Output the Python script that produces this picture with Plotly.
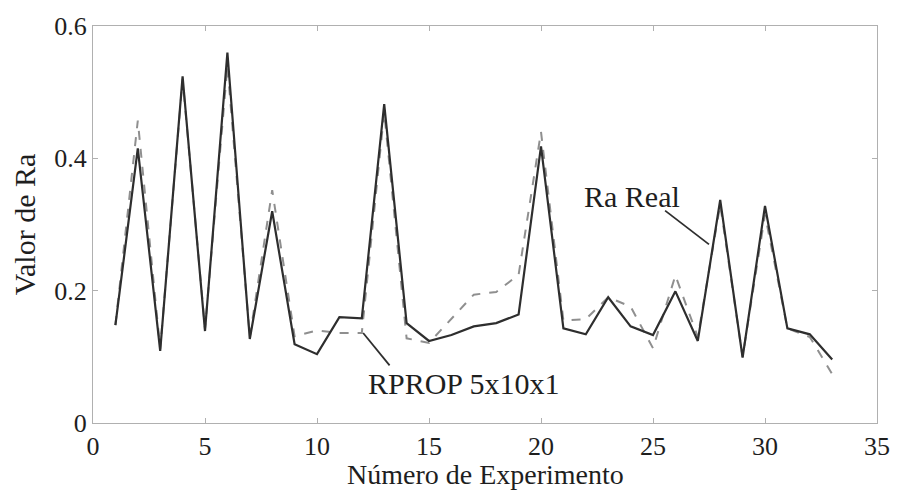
import plotly.graph_objects as go

experimento = list(range(1, 34))
ra_real = [0.148, 0.415, 0.109, 0.524, 0.139, 0.560, 0.127, 0.320, 0.119, 0.104,
           0.160, 0.158, 0.482, 0.151, 0.124, 0.133, 0.146, 0.151, 0.164, 0.418,
           0.143, 0.134, 0.190, 0.146, 0.133, 0.199, 0.124, 0.337, 0.099, 0.328,
           0.143, 0.134, 0.096]
rprop = [0.148, 0.457, 0.112, 0.520, 0.142, 0.540, 0.130, 0.352, 0.131, 0.140,
         0.136, 0.136, 0.470, 0.128, 0.121, 0.158, 0.194, 0.198, 0.224, 0.440,
         0.155, 0.157, 0.190, 0.176, 0.113, 0.223, 0.130, 0.330, 0.100, 0.315,
         0.143, 0.130, 0.074]

x_ticks = [0, 5, 10, 15, 20, 25, 30, 35]
y_ticks = [0, 0.2, 0.4, 0.6]
y_tick_text = ["0", "0.2", "0.4", "0.6"]

FONT = "Liberation Serif"
TXT = "#1e1e1e"

fig = go.Figure()
fig.add_trace(go.Scatter(x=experimento, y=rprop, mode="lines", name="RPROP 5x10x1",
                         line=dict(color="#8f8f8f", width=2, dash="dash")))
fig.add_trace(go.Scatter(x=experimento, y=ra_real, mode="lines", name="Ra Real",
                         line=dict(color="#2e2e2e", width=2.2)))

axis_common = dict(showgrid=False, zeroline=False, showline=True, linecolor="#b0b0b0",
                   linewidth=1, mirror="ticks", ticks="inside", ticklen=5,
                   tickcolor="#b0b0b0", tickfont=dict(family=FONT, size=26, color=TXT))

fig.update_layout(
    width=902, height=493,
    margin=dict(l=93, r=18, t=21, b=70),
    paper_bgcolor="white", plot_bgcolor="white",
    showlegend=False,
    xaxis=dict(range=[0, 35], tickvals=x_ticks, **axis_common),
    yaxis=dict(range=[0, 0.6], tickvals=y_ticks, ticktext=y_tick_text,
               title=dict(text="Valor de Ra", font=dict(family=FONT, size=30, color=TXT),
                          standoff=9),
               **axis_common),
)

# x-axis title
fig.add_annotation(xref="paper", yref="paper", x=0.5, y=-0.13, yanchor="middle",
                   text="Número de Experimento", showarrow=False, borderpad=0,
                   font=dict(family=FONT, size=28, color=TXT))

# annotation leader lines
fig.add_shape(type="line", x0=25.54, y0=0.321, x1=27.5, y1=0.27,
              line=dict(color="#2e2e2e", width=1.8))
fig.add_shape(type="line", x0=12.06, y0=0.136, x1=13.24, y1=0.087,
              line=dict(color="#2e2e2e", width=1.8))

fig.add_annotation(x=24.08, y=0.343, text="Ra Real", showarrow=False,
                   font=dict(family=FONT, size=30, color=TXT))
fig.add_annotation(x=16.56, y=0.060, text="RPROP 5x10x1", showarrow=False,
                   font=dict(family=FONT, size=30, color=TXT))

fig.write_html("out.html")
